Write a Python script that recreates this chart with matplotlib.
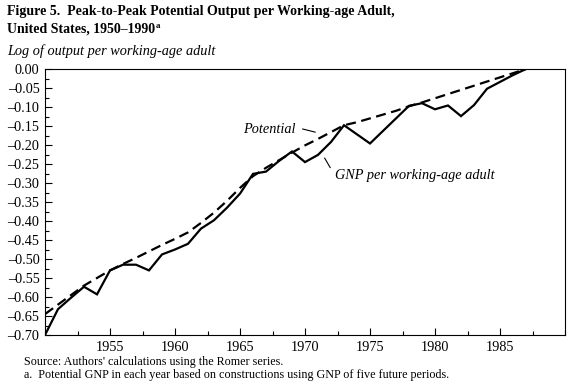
import matplotlib
matplotlib.use("Agg")
import matplotlib.pyplot as plt
import numpy as np
from matplotlib.ticker import MultipleLocator, FuncFormatter

plt.rcParams['font.family'] = ['Liberation Serif', 'DejaVu Serif']

# datos
anos = list(range(1950, 1988))
gnp = [-0.700, -0.632, -0.602, -0.573, -0.593, -0.530, -0.515, -0.515, -0.530, -0.488,
       -0.475, -0.460, -0.420, -0.398, -0.365, -0.328, -0.276, -0.270, -0.242, -0.217,
       -0.245, -0.226, -0.192, -0.148, -0.172, -0.196, -0.163, -0.130, -0.097, -0.090,
       -0.106, -0.096, -0.124, -0.095, -0.052, -0.034, -0.016, 0.000]
potencial = [-0.645, -0.620, -0.595, -0.570, -0.550, -0.530, -0.513, -0.497, -0.480, -0.463,
             -0.447, -0.430, -0.405, -0.378, -0.347, -0.313, -0.282, -0.260, -0.240, -0.220,
             -0.201, -0.184, -0.166, -0.148, -0.140, -0.130, -0.120, -0.110, -0.098, -0.088,
             -0.077, -0.066, -0.055, -0.044, -0.033, -0.022, -0.011, 0.000]

fig = plt.figure(figsize=(5.76, 3.89), dpi=100)
ax = fig.add_axes([45/576, 1-335/389, 520/576, 266/389])

ax.plot(anos, gnp, color='black', lw=1.6, solid_joinstyle='miter')
ax.plot(anos, potencial, color='black', lw=1.6, dashes=(4.5, 2.5))

def fmt(v, pos):
    if abs(v) < 1e-9:
        return "0.00"
    return ("%.2f" % v).replace("-", "\u2013")

ax.set_xlim(1950, 1990)
ax.set_ylim(-0.70, 0.0)
ax.set_xticks(range(1955, 1990, 5))
ax.xaxis.set_minor_locator(MultipleLocator(2.5))
ax.yaxis.set_major_locator(MultipleLocator(0.05))
ax.yaxis.set_minor_locator(MultipleLocator(0.025))
ax.yaxis.set_major_formatter(FuncFormatter(fmt))
ax.tick_params(which='both', direction='in', top=False, right=False, labelsize=10.3, pad=4)
ax.tick_params(which='major', length=5, width=0.8)
ax.tick_params(which='minor', length=3, width=0.8)
for s in ax.spines.values():
    s.set_linewidth(0.8)

# anotacoes
ax.text(1969.3, -0.158, "Potential", style='italic', fontsize=10.3, ha='right', va='center')
ax.annotate('', xy=(1971.0, -0.168), xytext=(1969.6, -0.156),
            arrowprops=dict(arrowstyle='-', lw=0.8, color='black'))
ax.text(1972.3, -0.279, "GNP per working-age adult", style='italic', fontsize=10.3,
        ha='left', va='center')
ax.annotate('', xy=(1971.4, -0.228), xytext=(1972.05, -0.266),
            arrowprops=dict(arrowstyle='-', lw=0.8, color='black'))

# titulos
fig.text(7/576, 1-5/389, "Figure 5.  Peak-to-Peak Potential Output per Working-age Adult,",
         fontsize=10, fontweight='bold', va='top', ha='left')
t2 = fig.text(7/576, 1-23/389, "United States, 1950\u20131990",
              fontsize=10, fontweight='bold', va='top', ha='left')
fig.canvas.draw()
bb = t2.get_window_extent()
fig.text((bb.x1 + 1)/576, (bb.y1 + 1)/389, "a", fontsize=6.5, fontweight='bold',
         va='top', ha='left')
fig.text(7/576, 1-44/389, "Log of output per working-age adult", style='italic',
         fontsize=10.3, va='top', ha='left')

fig.text(24/576, 1-362/389, "Source: Authors' calculations using the Romer series.",
         fontsize=8.7, va='center', ha='left')
fig.text(24/576, 1-375/389, "a.  Potential GNP in each year based on constructions using GNP of five future periods.",
         fontsize=8.7, va='center', ha='left')

plt.savefig("out.png", dpi=100)
